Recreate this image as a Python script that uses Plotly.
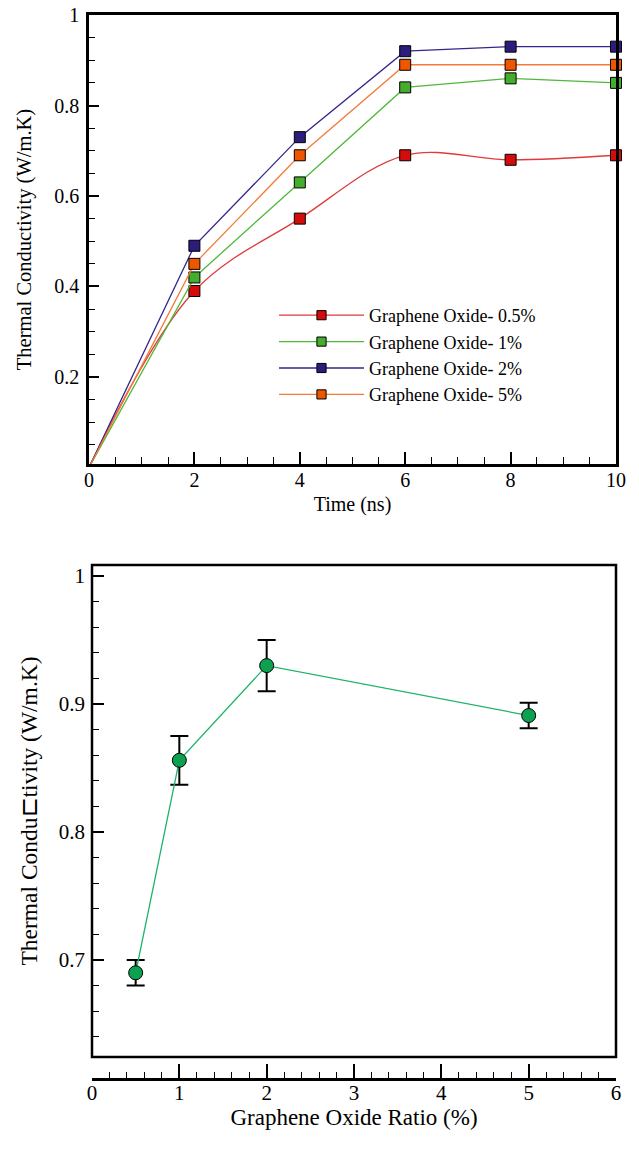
import plotly.graph_objects as go

# ---- thermal conductivity vs. simulation time ----
time_ns = [0, 2, 4, 6, 8, 10]
tc_05 = [0, 0.39, 0.55, 0.69, 0.68, 0.69]
tc_1 = [0, 0.42, 0.63, 0.84, 0.86, 0.85]
tc_2 = [0, 0.49, 0.73, 0.92, 0.93, 0.93]
tc_5 = [0, 0.45, 0.69, 0.89, 0.89, 0.89]
series_names = ["Graphene Oxide- 0.5%", "Graphene Oxide- 1%",
                "Graphene Oxide- 2%", "Graphene Oxide- 5%"]
line_colors = ["#e03a3a", "#4fb83a", "#35268a", "#f47a3a"]
marker_colors = ["#d40c0c", "#45ad2e", "#2c1c7c", "#ee5600"]
line_shapes = ["spline", "linear", "linear", "linear"]

# ---- final conductivity vs. GO ratio ----
go_ratio = [0.5, 1, 2, 5]
tc_final = [0.69, 0.856, 0.93, 0.891]
tc_err = [0.01, 0.019, 0.02, 0.01]

W, H = 639, 1155
FONT = "Liberation Serif"


def px_x(p):
    return p / W


def px_y(p):
    return 1 - p / H


fig = go.Figure()

for name, ys, lc, mc, shp in zip(series_names, [tc_05, tc_1, tc_2, tc_5],
                                 line_colors, marker_colors, line_shapes):
    fig.add_trace(go.Scatter(
        x=time_ns, y=ys, name=name, mode="lines+markers",
        line=dict(color=lc, width=1.3, shape=shp, smoothing=1),
        # no symbol at the origin point
        marker=dict(symbol="square", size=[0] + [11] * (len(ys) - 1),
                    opacity=1, color=mc, line=dict(color="black", width=1)),
        cliponaxis=False,
        xaxis="x", yaxis="y",
    ))

fig.add_trace(go.Scatter(
    x=go_ratio, y=tc_final, mode="lines+markers", showlegend=False,
    line=dict(color="#1db36a", width=1.3),
    marker=dict(symbol="circle", size=14, color="#0ca14e", opacity=1,
                line=dict(color="black", width=1)),
    error_y=dict(type="data", array=tc_err, color="black",
                 thickness=2, width=9),
    cliponaxis=False,
    xaxis="x2", yaxis="y2",
))


def fnt(size):
    return dict(family=FONT, size=size, color="black")


fig.update_layout(
    width=W, height=H,
    margin=dict(l=0, r=0, t=0, b=0, autoexpand=False),
    paper_bgcolor="white", plot_bgcolor="white",
    font=dict(family=FONT, color="black"),
    xaxis=dict(
        domain=[px_x(89), px_x(616)], anchor="y", automargin=False,
        range=[0, 10], dtick=2, tick0=0,
        ticks="inside", ticklen=12, tickwidth=2, tickcolor="black",
        minor=dict(dtick=0.5, ticks="inside", ticklen=7, tickwidth=1.2,
                   tickcolor="black"),
        showline=True, linewidth=2.5, linecolor="black", mirror=True,
        showgrid=False, zeroline=False,
        tickfont=fnt(20), ticklabelstandoff=-4,
        title=dict(text="Time (ns)", font=fnt(20), standoff=8),
    ),
    yaxis=dict(
        domain=[px_y(464), px_y(15)], anchor="x", automargin=False,
        range=[0.0077, 1.0],
        tickvals=[0.2, 0.4, 0.6, 0.8, 1.0],
        ticktext=["0.2", "0.4", "0.6", "0.8", "1"],
        ticks="inside", ticklen=10, tickwidth=2, tickcolor="black",
        minor=dict(dtick=0.05, tick0=0, ticks="inside", ticklen=6,
                   tickwidth=1.2, tickcolor="black"),
        showline=True, linewidth=2.5, linecolor="black", mirror=True,
        showgrid=False, zeroline=False,
        tickfont=fnt(20), ticklabelstandoff=3,
        title=dict(text="Thermal Conductivity (W/m.K)", font=fnt(20.5),
                   standoff=18),
    ),
    xaxis2=dict(
        domain=[px_x(92), px_x(616)], anchor="free", position=px_y(1079),
        automargin=False,
        range=[0, 6], dtick=1, tick0=0,
        ticks="inside", ticklen=14, tickwidth=2, tickcolor="black",
        minor=dict(dtick=0.2, ticks="inside", ticklen=6, tickwidth=1.2,
                   tickcolor="black"),
        showline=True, linewidth=2.5, linecolor="black",
        showgrid=False, zeroline=False,
        tickfont=fnt(21), ticklabelstandoff=-6,
        title=dict(text="Graphene Oxide Ratio (%)", font=fnt(23),
                   standoff=0),
    ),
    yaxis2=dict(
        domain=[px_y(1057), px_y(565)], anchor="x2", automargin=False,
        range=[0.6242, 1.0086],
        tickvals=[0.7, 0.8, 0.9, 1.0],
        ticktext=["0.7", "0.8", "0.9", "1"],
        ticks="inside", ticklen=12, tickwidth=2, tickcolor="black",
        minor=dict(dtick=0.02, tick0=0, ticks="inside", ticklen=7,
                   tickwidth=1.2, tickcolor="black"),
        showline=False,
        showgrid=False, zeroline=False,
        tickfont=fnt(21), ticklabelstandoff=6,
        title=dict(text="Thermal Condu\u228ftivity (W/m.K)", font=fnt(23.5),
                   standoff=14),
    ),
    legend=dict(
        x=px_x(274), y=px_y(297), xanchor="left", yanchor="top",
        bgcolor="rgba(0,0,0,0)", borderwidth=0,
        font=fnt(18), itemwidth=85, tracegroupgap=0,
    ),
    shapes=[dict(type="rect", xref="x2 domain", yref="y2 domain",
                 x0=0, x1=1, y0=0, y1=1,
                 line=dict(color="black", width=2.5), layer="above")],
)

fig.write_html("out.html")
